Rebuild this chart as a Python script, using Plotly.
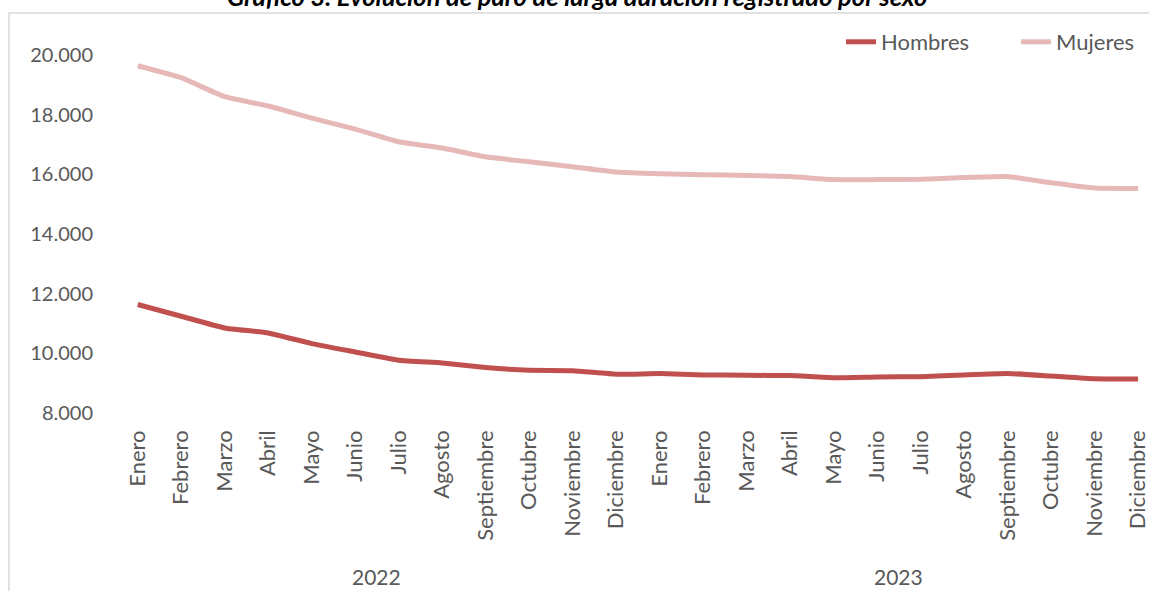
import plotly.graph_objects as go

months = ["Enero", "Febrero", "Marzo", "Abril", "Mayo", "Junio", "Julio", "Agosto",
          "Septiembre", "Octubre", "Noviembre", "Diciembre"]
years = ["2022", "2023"]
categories = months + months

hombres = [11636, 11243, 10851, 10683, 10327, 10046, 9767, 9677, 9523, 9432, 9420, 9300,
           9320, 9277, 9264, 9254, 9183, 9207, 9217, 9277, 9324, 9240, 9146, 9140]
mujeres = [19641, 19238, 18601, 18289, 17886, 17517, 17091, 16880, 16588, 16420, 16252, 16075,
           16020, 15990, 15964, 15927, 15823, 15823, 15833, 15894, 15927, 15716, 15540, 15525]

y_ticks = [8000, 10000, 12000, 14000, 16000, 18000, 20000]
y_tick_text = ["8.000", "10.000", "12.000", "14.000", "16.000", "18.000", "20.000"]

title_text = "Gráfico 3. Evolución de paro de larga duración registrado por sexo"

x_idx = list(range(len(categories)))

FONT = "Lato"
GREY = "#595959"

fig = go.Figure()
fig.add_trace(go.Scatter(x=x_idx, y=hombres, name="Hombres", mode="lines",
                         line=dict(color="#C0504D", width=5, shape="spline", smoothing=0.4)))
fig.add_trace(go.Scatter(x=x_idx, y=mujeres, name="Mujeres", mode="lines",
                         line=dict(color="#E6B9B8", width=5, shape="spline", smoothing=0.4)))

W, H = 1149, 591
L, R, T, B = 116, 0, 55, 178
pw, ph = W - L - R, H - T - B

def px_to_paper_x(px):
    return (px - L) / pw

def px_to_paper_y(py):
    return 1 + (T - py) / ph

fig.update_layout(
    width=W, height=H,
    margin=dict(l=L, r=R, t=T, b=B, autoexpand=False),
    paper_bgcolor="white", plot_bgcolor="white",
    font=dict(family=FONT, color=GREY, size=20),
    showlegend=True,
    legend=dict(orientation="h", x=px_to_paper_x(1191), xanchor="right",
                y=px_to_paper_y(42), yanchor="middle",
                font=dict(family=FONT, size=22, color=GREY), bgcolor="rgba(0,0,0,0)",
                itemwidth=30, entrywidth=130, entrywidthmode="pixels"),
    xaxis=dict(range=[-0.5, 23.25], tickmode="array", tickvals=x_idx, ticktext=categories,
               tickangle=-90, showgrid=False, zeroline=False, showline=False, ticks="",
               ticklabelstandoff=12, ticklabeloverflow="allow", automargin=False,
               tickfont=dict(family=FONT, size=22, color=GREY)),
    yaxis=dict(range=[8000, 20000], tickmode="array", tickvals=y_ticks, ticktext=y_tick_text,
               showgrid=False, zeroline=False, showline=False, ticks="",
               ticklabelstandoff=22, automargin=False,
               tickfont=dict(family=FONT, size=20, color=GREY)),
)

# year group labels
for i, yr in enumerate(years):
    fig.add_annotation(x=i * 12 + 5.5, xref="x", y=px_to_paper_y(576), yref="paper",
                       text=yr, showarrow=False, yanchor="middle",
                       font=dict(family=FONT, size=21, color=GREY))

# title (partly cut at top like the reference)
fig.add_annotation(x=px_to_paper_x(577), xref="paper", y=px_to_paper_y(13), yref="paper",
                   text="<b><i>" + title_text + "</i></b>", showarrow=False,
                   xanchor="center", yanchor="bottom",
                   font=dict(family=FONT, size=25.5, color="black"))

# chart area border
fig.add_shape(type="rect", xref="paper", yref="paper",
              x0=px_to_paper_x(9), x1=px_to_paper_x(1200),
              y0=px_to_paper_y(700), y1=px_to_paper_y(13),
              line=dict(color="#D9D9D9", width=1.5), fillcolor="rgba(0,0,0,0)", layer="below")

fig.write_html("out.html", config={"displayModeBar": False},
               post_script="document.body.style.margin='0';document.body.style.overflow='hidden';")
